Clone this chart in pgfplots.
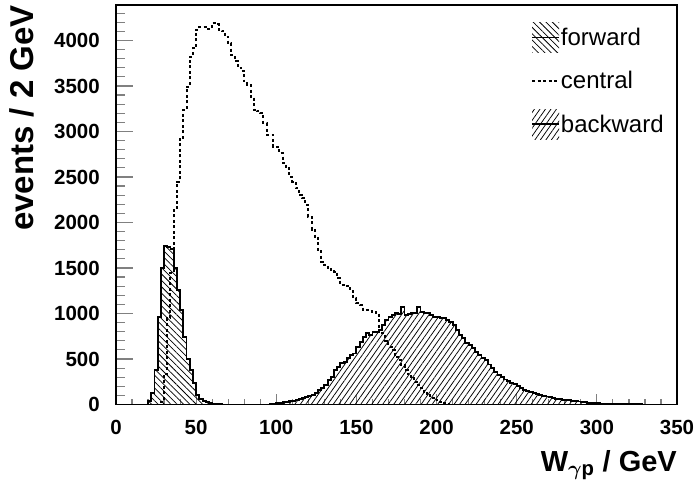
\documentclass[border=0pt]{standalone}
\usepackage{fontspec}
\setmainfont{Liberation Sans}
\usepackage{pgfplots}
\usepackage{pgfplotstable}
\pgfplotsset{compat=1.18}
\usetikzlibrary{patterns.meta}

\pgfplotstableread{
x y
18 0
20 40
22 130
24 379
26 960
28 1497
30 1738
32 1735
34 1710
36 1497
38 1259
40 1040
42 746
44 500
46 380
48 235
50 100
52 65
54 42
56 26
58 15
60 9
62 5
64 2
66 0
68 0
}\forward

\pgfplotstableread{
x y
26 0
28 30
30 340
32 948
34 1450
36 2157
38 2450
40 2919
42 3238
44 3494
46 3824
48 3916
50 4118
52 4150
54 4150
56 4130
58 4130
60 4190
62 4180
64 4118
66 4100
68 4040
70 3970
72 3840
74 3770
76 3700
78 3660
80 3550
82 3515
84 3380
86 3240
88 3220
90 3200
92 3090
94 2963
96 2963
98 2835
100 2835
102 2760
104 2650
106 2600
108 2505
110 2450
112 2376
114 2300
116 2267
118 2194
120 2065
122 1919
124 1845
126 1700
128 1570
130 1530
132 1500
134 1480
136 1460
138 1390
140 1314
142 1300
144 1300
146 1250
148 1167
150 1112
152 1090
154 1038
156 1038
158 1030
160 1020
162 1002
164 855
166 782
168 700
170 636
172 599
174 526
176 490
178 434
180 380
182 330
184 288
186 250
188 214
190 178
192 141
194 104
196 90
198 68
200 50
202 31
204 13
206 5
208 0
210 0
}\central

\pgfplotstableread{
x y
94 0
96 5
98 8
100 12
102 20
104 25
106 30
108 35
110 42
112 50
114 60
116 70
118 85
120 95
122 105
124 125
126 160
128 178
130 214
132 269
134 306
136 380
138 416
140 453
142 471
144 508
146 544
148 560
150 636
152 691
154 746
156 782
158 764
160 801
162 801
164 819
166 874
168 929
170 966
172 984
174 1002
176 990
178 1076
180 984
182 990
184 1002
186 1002
188 1076
190 1021
192 1002
194 1002
196 984
198 966
200 966
202 947
204 947
206 930
208 911
210 874
212 819
214 760
216 728
218 680
220 655
222 618
224 580
226 545
228 515
230 490
232 440
234 400
236 360
238 320
240 300
242 275
244 255
246 240
248 225
250 200
252 180
254 160
256 145
258 135
260 125
262 115
264 104
266 95
268 88
270 80
272 70
274 62
276 57
278 54
280 50
282 47
284 43
286 38
288 33
290 29
292 25
294 21
296 18
298 15
300 13
302 11
304 9
306 8
308 7
310 6
312 5
314 4
316 3
318 3
320 2
322 2
324 1
326 1
328 0
330 0
}\backward

\begin{document}
\begin{tikzpicture}
\path[use as bounding box] (0,0) rectangle (699pt,488pt);
\begin{axis}[
  at={(116pt,83.5pt)}, anchor=south west,
  scale only axis, width=561pt, height=399.5pt,
  xmin=0, xmax=350, ymin=0, ymax=4390,
  axis line style={line width=1.5pt},
  tick align=inside,
  xtick pos=left, ytick pos=left,
  xtick={0,50,...,350},
  ytick={0,500,...,4000},
  minor xtick={10,20,...,340},
  minor ytick={100,200,...,4300},
  major tick length=17pt,
  minor tick length=9pt,
  xtick style={line width=1.2pt,/pgfplots/major tick length=11pt,/pgfplots/minor tick length=5.5pt},
  ytick style={line width=1.2pt},
  scaled ticks=false,
  /pgf/number format/assume math mode=true,
  /pgf/number format/set thousands separator={},
  ticklabel style={font=\fontsize{20.5}{20.5}\selectfont\bfseries},
  xticklabel style={anchor=north, inner sep=0pt, yshift=-15.5pt},
  yticklabel style={anchor=east, inner sep=0pt, xshift=-16pt},
  xlabel={W\textsubscript{\boldmath$\gamma$p} / GeV},
  ylabel={events / 2 GeV},
  xlabel style={font=\fontsize{29}{29}\selectfont\bfseries, at={(axis description cs:1,0)}, anchor=base east, inner sep=0pt, yshift=-67pt},
  ylabel style={font=\fontsize{33}{33}\selectfont\bfseries, at={(axis description cs:0,1)}, anchor=base east, inner sep=0pt, yshift=82pt},
  legend style={at={(rel axis cs:0.74,0.957)}, anchor=north west, draw=none, fill=none,
    font=\fontsize{24}{24}\selectfont, inner sep=0pt, row sep=18pt,
    nodes={inner sep=1pt},
    /tikz/every even column/.append style={column sep=3pt}},
  legend cell align=left,
]
\addplot[const plot mark left, draw=black, line width=1.9pt,
  pattern={Lines[angle=-45,distance=4.5pt,line width=0.75pt]},
  legend image code/.code={
    \fill[draw=none,pattern={Lines[angle=-45,distance=4.5pt,line width=0.75pt]}] (0pt,-15pt) rectangle (27pt,15pt);
    \draw[line width=1.6pt] (0pt,0pt) -- (27pt,0pt);}
  ] table {\forward} \closedcycle;
\addlegendentry{forward}
\addplot[const plot mark left, draw=black, line width=2pt, dash pattern=on 3pt off 2.5pt,
  legend image code/.code={
    \draw[line width=1.6pt, dash pattern=on 3pt off 2.5pt] (0pt,0pt) -- (27pt,0pt);}
  ] table {\central};
\addlegendentry{central}
\addplot[const plot mark left, draw=black, line width=1.9pt,
  pattern={Lines[angle=55,distance=4.5pt,line width=0.75pt]},
  legend image code/.code={
    \fill[draw=none,pattern={Lines[angle=55,distance=4.5pt,line width=0.75pt]}] (0pt,-15pt) rectangle (27pt,15pt);
    \draw[line width=1.6pt] (0pt,0pt) -- (27pt,0pt);}
  ] table {\backward} \closedcycle;
\addlegendentry{backward}
\end{axis}
\end{tikzpicture}
\end{document}
